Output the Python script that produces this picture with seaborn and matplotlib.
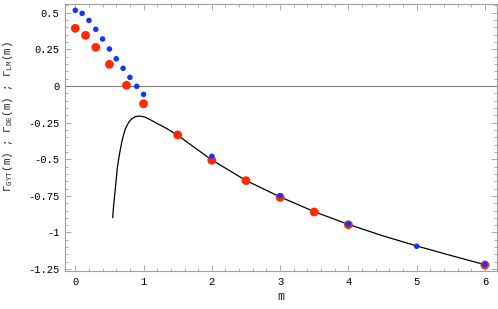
import matplotlib
matplotlib.use("Agg")
import matplotlib.pyplot as plt
import seaborn as sns
import pandas as pd
from matplotlib.ticker import MultipleLocator, FixedLocator

# Gamma_LM (blue, small)
lm_m = [0.0, 0.1, 0.2, 0.3, 0.4, 0.5, 0.6, 0.7, 0.8, 0.9, 1.0, 2.0, 3.0, 4.0, 5.0, 6.0]
lm_g = [0.517, 0.496, 0.448, 0.387, 0.321, 0.253, 0.186, 0.121, 0.059, -0.002, -0.057,
        -0.480, -0.749, -0.942, -1.094, -1.217]

# Gamma_DE (red, large)
de_m = [0.0, 0.15, 0.3, 0.5, 0.75, 1.0, 1.5, 2.0, 2.5, 3.0, 3.5, 4.0, 6.0]
de_g = [0.394, 0.346, 0.264, 0.148, 0.005, -0.121, -0.334, -0.507, -0.646, -0.760,
        -0.860, -0.947, -1.222]

# Gamma_GYT (black curve)
gyt_m = [0.548, 0.557, 0.567, 0.58, 0.592, 0.615, 0.635, 0.654, 0.68, 0.703, 0.728, 0.753,
         0.79, 0.826, 0.88, 0.947, 1.02, 1.094, 1.2, 1.338, 1.504, 1.679, 2.0, 2.5, 3.0,
         3.5, 4.0, 4.5, 5.0, 5.5, 6.0]
gyt_g = [-0.899, -0.84, -0.790, -0.73, -0.676, -0.562, -0.50, -0.448, -0.385, -0.340,
         -0.300, -0.272, -0.243, -0.224, -0.209, -0.205, -0.212, -0.229, -0.256, -0.290,
         -0.337, -0.397, -0.505, -0.645, -0.757, -0.858, -0.945, -1.022, -1.092, -1.157,
         -1.220]

x_ticks = [0, 1, 2, 3, 4, 5, 6]
x_labels = ["0", "1", "2", "3", "4", "5", "6"]
y_ticks = [-1.25, -1.0, -0.75, -0.5, -0.25, 0.0, 0.25, 0.5]
y_labels = ["-1.25", "-1", "-0.75", "-0.5", "-0.25", "0", "0.25", "0.5"]

sns.set_theme(style="ticks")
plt.rcParams["font.family"] = ["Liberation Mono", "DejaVu Sans"]
plt.rcParams["mathtext.fontset"] = "custom"
plt.rcParams["mathtext.rm"] = "Liberation Mono"
plt.rcParams["mathtext.it"] = "Liberation Mono"

fig = plt.figure(figsize=(4.98, 3.09), dpi=100)
ax = fig.add_axes([0.1305, 0.123, 0.8665, 0.864])

ax.axhline(0, color="#808080", lw=0.8, zorder=1)

sns.lineplot(x=gyt_m, y=gyt_g, ax=ax, color="black", lw=0.9, sort=False, zorder=2)
sns.scatterplot(x=de_m, y=de_g, ax=ax, color="#ff2a00", s=40, edgecolor="none",
                linewidth=0, zorder=3)
sns.scatterplot(x=lm_m, y=lm_g, ax=ax, color="#1236ff", s=16, edgecolor="none",
                linewidth=0, zorder=4)

ax.set_xlim(-0.151, 6.17)
ax.set_ylim(-1.263, 0.56)

ax.xaxis.set_major_locator(FixedLocator(x_ticks))
ax.set_xticklabels(x_labels)
ax.xaxis.set_minor_locator(MultipleLocator(0.2))
ax.yaxis.set_major_locator(FixedLocator(y_ticks))
ax.set_yticklabels(y_labels)
ax.yaxis.set_minor_locator(MultipleLocator(0.05))

frame_col = "#a0a0a0"
for sp in ax.spines.values():
    sp.set_visible(True)
    sp.set_color(frame_col)
    sp.set_linewidth(0.8)

ax.tick_params(which="both", direction="in", top=True, right=True, color=frame_col,
               labelsize=7.6, labelcolor="black", width=0.6)
ax.tick_params(which="major", length=4, pad=4)
ax.tick_params(which="minor", length=2)

ax.set_xlabel("m", fontsize=8.5, labelpad=3)
ax.set_ylabel(r"$\Gamma_{\rm GYT}$(m) ; $\Gamma_{\rm DE}$(m) ; $\Gamma_{\rm LM}$(m)",
              fontsize=7.8, va="center")
ax.yaxis.set_label_coords(-0.132, 0.58)

fig.savefig("out.png", dpi=100)
